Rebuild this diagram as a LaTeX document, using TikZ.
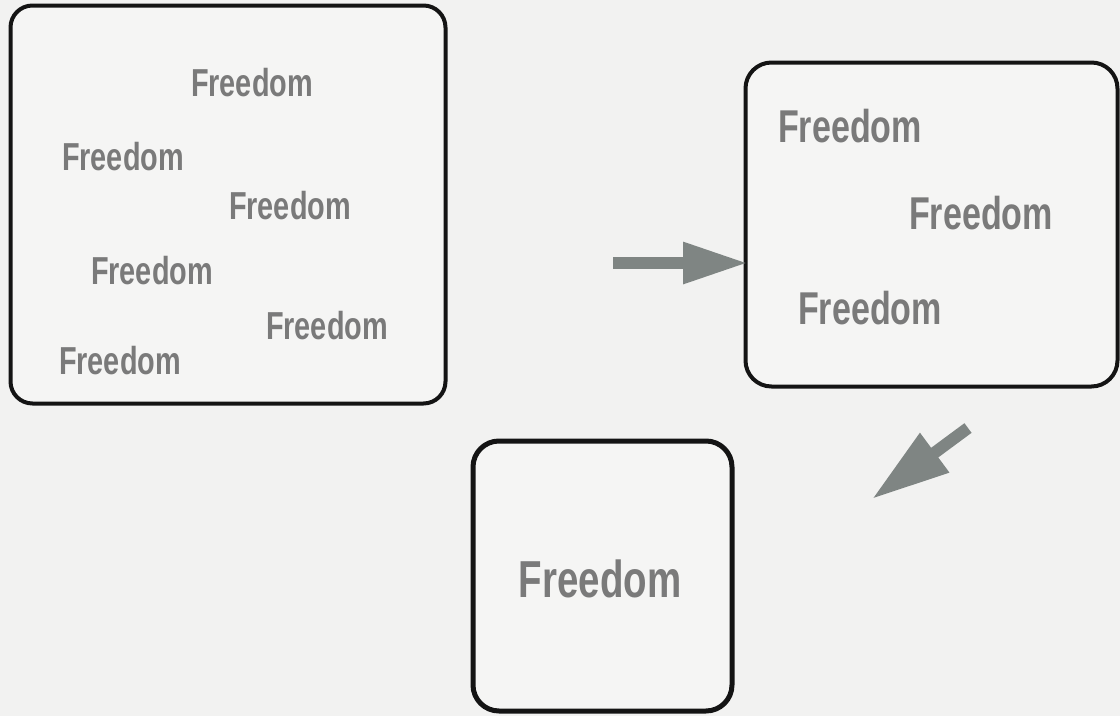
\documentclass[tikz,border=0pt]{standalone}
\usepackage{fontspec}
\usetikzlibrary{arrows.meta}
\newfontfamily\frfont{Liberation Sans}[FakeStretch=0.74]
\definecolor{bgc}{RGB}{242,242,241}
\definecolor{boxfill}{RGB}{245,245,244}
\definecolor{txtc}{RGB}{122,122,122}
\definecolor{arrc}{RGB}{127,133,131}
\tikzset{
  framebox/.style={draw=black!92, line width=4pt, fill=boxfill, rounded corners=22pt, inner sep=0pt},
  word/.style={text=txtc, inner sep=0pt, font=\frfont\bfseries\fontsize{39}{39}\selectfont},
  wordm/.style={word, font=\frfont\bfseries\fontsize{46}{46}\selectfont},
  wordl/.style={word, font=\frfont\bfseries\fontsize{52}{52}\selectfont},
  bigarrow/.style={draw=arrc, line width=12pt, -{Triangle[length=65pt,width=39pt]}, fill=arrc},
}
\begin{document}
\begin{tikzpicture}[x=1pt,y=-1pt]
\fill[bgc] (0,0) rectangle (1120,716);
\useasboundingbox (0,0) rectangle (1120,716);
% boxes
\node[framebox, minimum width=435pt, minimum height=398pt] (b1) at (228,204.5) {};
\node[framebox, minimum width=372pt, minimum height=324pt, rounded corners=26pt] (b2) at (931.5,224.5) {};
\node[framebox, line width=5pt, minimum width=259pt, minimum height=270pt, rounded corners=26pt] (b3) at (602.5,576) {};
% words in box 1
\node[word] (w11) at (252,83) {Freedom};
\node[word] (w12) at (123,157) {Freedom};
\node[word] (w13) at (290,206) {Freedom};
\node[word] (w14) at (152,271) {Freedom};
\node[word] (w15) at (327,326) {Freedom};
\node[word] (w16) at (120,361) {Freedom};
% words in box 2
\node[wordm] (w21) at (850,126) {Freedom};
\node[wordm] (w22) at (981,213) {Freedom};
\node[wordm] (w23) at (870,308) {Freedom};
% word in box 3
\node[wordl] (w31) at (600,579) {Freedom};
% arrows
\coordinate (a1s) at (613,263);
\coordinate (a1e) at (748,263);
\coordinate (a2s) at (968,428);
\coordinate (a2e) at (872,499);
\draw[bigarrow] (a1s) -- (a1e);
\draw[bigarrow, -{Triangle[length=78pt,width=46pt]}] (a2s) -- (a2e);
\end{tikzpicture}
\end{document}
